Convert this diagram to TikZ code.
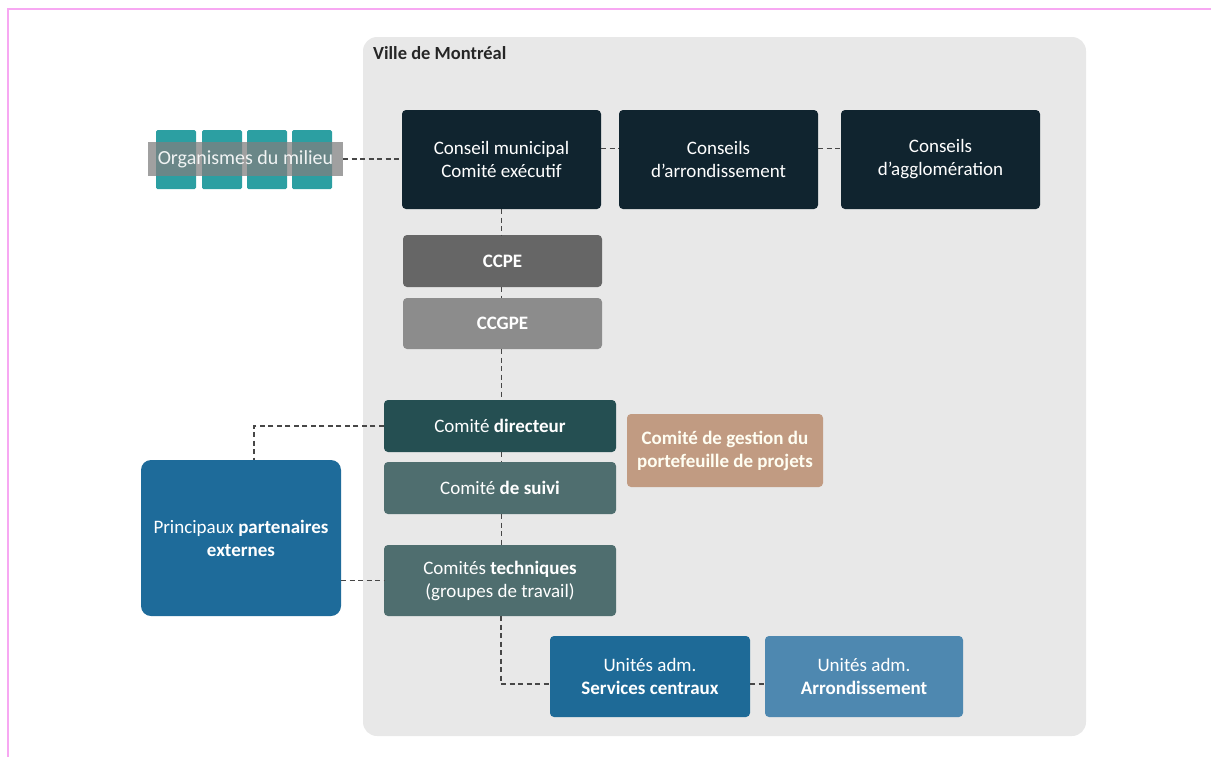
\documentclass[tikz,border=0pt]{standalone}
\usepackage{fontspec}
\setmainfont{Carlito}
\usetikzlibrary{calc}
\definecolor{bgpanel}{HTML}{E8E8E8}
\definecolor{navy}{HTML}{10242F}
\definecolor{ccpe}{HTML}{666666}
\definecolor{ccgpe}{HTML}{8C8C8C}
\definecolor{cdir}{HTML}{254F52}
\definecolor{csuiv}{HTML}{4F6E6F}
\definecolor{tan}{HTML}{C19B82}
\definecolor{pblue}{HTML}{1E6B9A}
\definecolor{sblue}{HTML}{1E6A97}
\definecolor{lblue}{HTML}{4E88B0}
\definecolor{teal}{HTML}{2C9FA2}
\definecolor{pinkf}{HTML}{F7A8F2}
\definecolor{dashc}{HTML}{474747}
\begin{document}
\begin{tikzpicture}[x=1pt,y=-1pt,
  box/.style={rounded corners=4pt, text=white, align=center, inner sep=0pt, font=\fontsize{19}{23}\selectfont},
  conn/.style={draw=dashc, line width=1.6pt, dash pattern=on 5pt off 3.5pt},
  tealsq/.style={fill=teal, rounded corners=1.5pt, inner sep=0pt, minimum width=40pt, minimum height=59pt}]
\useasboundingbox (0,0) rectangle (1211,756);
% pink frame
\draw[pinkf, line width=2.5pt] (8,760) -- (8,9) -- (1215,9);
% panel
\fill[bgpanel, rounded corners=14pt] (363,37) rectangle (1086,736);
\node[anchor=west, font=\fontsize{18.5}{20}\selectfont\bfseries, text=black!85, inner sep=0pt] (ville) at (373,53) {Ville de Montréal};
% top row
\node[box, fill=navy, minimum width=199pt, minimum height=99pt] (cm) at (501.5,159.5) {Conseil municipal\\Comité exécutif};
\node[box, fill=navy, minimum width=199pt, minimum height=99pt] (ca) at (718.5,159.5) {Conseils\\d’arrondissement};
\node[box, fill=navy, minimum width=199pt, minimum height=99pt] (cg) at (940.5,159.5) {Conseils\\d’agglomération};
% organismes
\node[tealsq] (o1) at (176,159.5) {};
\node[tealsq] (o2) at (222,159.5) {};
\node[tealsq] (o3) at (267,159.5) {};
\node[tealsq] (o4) at (312,159.5) {};
\node[fill=gray, fill opacity=0.75, text opacity=0.9, text=white, inner sep=0pt, minimum width=195pt, minimum height=34pt, font=\fontsize{20}{22}\selectfont] (org) at (245.5,159) {Organismes du milieu};
% CCPE / CCGPE
\node[box, fill=ccpe, minimum width=199pt, minimum height=52pt, font=\fontsize{19}{22}\selectfont\bfseries] (ccpe) at (502.5,261) {CCPE};
\node[box, fill=ccgpe, minimum width=199pt, minimum height=51pt, font=\fontsize{19}{22}\selectfont\bfseries] (ccgpe) at (502.5,323.5) {CCGPE};
% comites
\node[box, fill=cdir, minimum width=232pt, minimum height=52pt] (dir) at (500,426) {Comité \textbf{directeur}};
\node[box, fill=csuiv, minimum width=232pt, minimum height=52pt] (suivi) at (500,488) {Comité \textbf{de suivi}};
\node[box, fill=csuiv, minimum width=232pt, minimum height=71pt] (tech) at (500,580.5) {Comités \textbf{techniques}\\(groupes de travail)};
\node[box, fill=tan, minimum width=196pt, minimum height=73pt, font=\fontsize{19}{23}\selectfont\bfseries, text=white!95!yellow] (gest) at (725,450.5) {Comité de gestion du\\portefeuille de projets};
% partenaires
\node[box, rounded corners=10pt, fill=pblue, minimum width=200pt, minimum height=156pt] (part) at (241,538) {Principaux \textbf{partenaires}\\\textbf{externes}};
% unites
\node[box, fill=sblue, minimum width=200pt, minimum height=81pt] (serv) at (650,676.5) {Unités adm.\\\textbf{Services centraux}};
\node[box, fill=lblue, minimum width=198pt, minimum height=81pt] (arr) at (864,676.5) {Unités adm.\\\textbf{Arrondissement}};
% connectors
\draw[conn] (org.east) -- (org.east -| cm.west);
\draw[conn] ($(cm.east)+(0,-11)$) -- ($(ca.west)+(0,-11)$);
\draw[conn] ($(ca.east)+(0,-11)$) -- ($(cg.west)+(0,-11)$);
\draw[conn] (cm.south) -- (cm.south |- ccpe.north);
\draw[conn] (ccpe.south -| cm.south) -- (ccgpe.north -| cm.south);
\draw[conn] (ccgpe.south -| cm.south) -- (dir.north -| cm.south);
\draw[conn] (dir.south -| cm.south) -- (suivi.north -| cm.south);
\draw[conn] (suivi.south -| cm.south) -- (tech.north -| cm.south);
\draw[conn] ($(dir.east)+(0,4)$) -- ($(dir.east)+(0,4)$ -| gest.west);
\draw[conn] (dir.west) -- (dir.west -| 254,0) -- (part.north -| 254,0);
\draw[conn] (part.east |- tech.center) -- (tech.west);
\coordinate (bend) at (501,684);
\draw[conn] (tech.south -| bend) -- (bend) -- (bend -| serv.west);
\draw[conn] (serv.east |- bend) -- (arr.west |- bend);
\end{tikzpicture}
\end{document}
